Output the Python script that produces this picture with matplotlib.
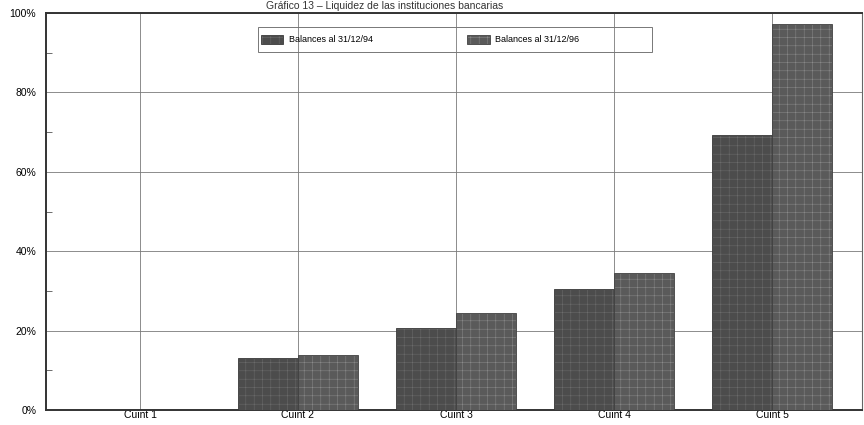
import matplotlib
matplotlib.use("Agg")
import matplotlib.pyplot as plt
from matplotlib.patches import Rectangle
import numpy as np

plt.rcParams['font.family'] = ['Liberation Sans', 'DejaVu Sans']
plt.rcParams['hatch.linewidth'] = 0.35

categories = ["Cuint 1", "Cuint 2", "Cuint 3", "Cuint 4", "Cuint 5"]
balances_94 = [0.0, 13.0, 20.7, 30.4, 69.2]
balances_96 = [0.0, 13.9, 24.4, 34.6, 97.2]
series_labels = ["Balances al 31/12/94", "Balances al 31/12/96"]
ytick_values = [0, 20, 40, 60, 80, 100]
ytick_labels = ["0%", "20%", "40%", "60%", "80%", "100%"]
title = "Gráfico 13 – Liquidez de las instituciones bancarias"

W, H = 864, 425
fig = plt.figure(figsize=(W / 100, H / 100), dpi=100)
ax_l, ax_r, ax_t, ax_b = 46, 862, 13, 410
ax = fig.add_axes([ax_l / W, 1 - ax_b / H, (ax_r - ax_l) / W, (ax_b - ax_t) / H])

x = np.arange(len(categories))
w = 0.38
b1 = ax.bar(x - w / 2, balances_94, width=w, color="#4c4c4c", edgecolor="#3a3a3a",
            linewidth=0.6, hatch="++", label=series_labels[0], zorder=3)
b2 = ax.bar(x + w / 2, balances_96, width=w, color="#5a5a5a", edgecolor="#424242",
            linewidth=0.6, hatch="++", label=series_labels[1], zorder=3)
for r in b1:
    r._hatch_color = (0.43, 0.43, 0.43, 1)
for r in b2:
    r._hatch_color = (0.55, 0.55, 0.55, 1)

ax.set_xlim(-0.595, 4.57)
ax.set_ylim(0, 100)
ax.set_yticks(ytick_values)
ax.set_yticklabels(ytick_labels, fontsize=7.5)
ax.set_yticks([10, 30, 50, 70, 90], minor=True)
ax.set_xticks(x)
ax.set_xticklabels(categories, fontsize=7.5)
ax.tick_params(axis='y', which='major', length=0, pad=7)
ax.tick_params(axis='y', which='minor', direction='in', length=4, width=0.6, color="#555555")
ax.tick_params(axis='x', length=0, pad=0)

ax.grid(True, which='major', axis='both', color="#7a7a7a", linewidth=0.6, zorder=0)
ax.set_axisbelow(True)

for side in ["left", "bottom", "top"]:
    ax.spines[side].set_linewidth(1.4)
    ax.spines[side].set_color("#333333")
ax.spines["right"].set_linewidth(0.8)
ax.spines["right"].set_color("#666666")


def to_axes(px, py):
    return (px - ax_l) / (ax_r - ax_l), (ax_b - py) / (ax_b - ax_t)


# legend frame drawn as an open box, gridlines remain visible through it
x0, y0 = to_axes(258, 52)
x1, y1 = to_axes(652, 27)
ax.add_patch(Rectangle((x0, y0), x1 - x0, y1 - y0, transform=ax.transAxes,
                       facecolor="none", edgecolor="#777777", linewidth=0.7, zorder=4))
lx, ly = to_axes(258, 39.5)
leg = ax.legend(loc="center left", bbox_to_anchor=(lx, ly), ncol=2, fontsize=6.5,
                frameon=False, borderpad=0.0, borderaxespad=0.3,
                handlelength=2.5, handleheight=1.3, columnspacing=10.5, handletextpad=0.6)

fig.text(0.445, 1 - 1 / H, title, ha="center", va="top", fontsize=7.5, color="#333333")

fig.savefig("out.png", dpi=100)
